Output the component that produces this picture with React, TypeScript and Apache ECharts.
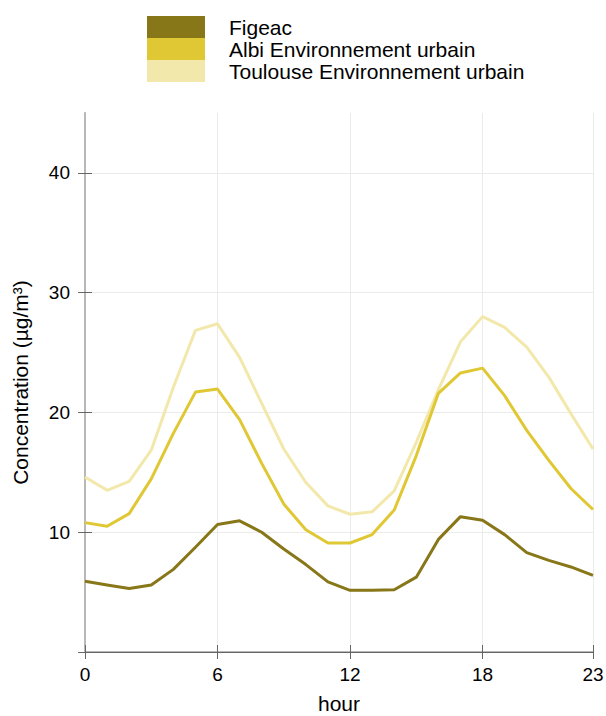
import React, { useEffect, useRef } from "react";
import * as echarts from "echarts";

const hours = [0, 1, 2, 3, 4, 5, 6, 7, 8, 9, 10, 11, 12, 13, 14, 15, 16, 17, 18, 19, 20, 21, 22, 23];
const figeac = [5.9, 5.6, 5.3, 5.6, 6.9, 8.75, 10.65, 10.95, 10.0, 8.6, 7.3, 5.85, 5.15, 5.15, 5.2, 6.25, 9.4, 11.3, 11.0, 9.8, 8.3, 7.65, 7.1, 6.4];
const albi = [10.8, 10.5, 11.55, 14.45, 18.25, 21.7, 21.95, 19.4, 15.75, 12.35, 10.2, 9.1, 9.1, 9.8, 11.85, 16.4, 21.6, 23.3, 23.7, 21.4, 18.5, 16.0, 13.65, 11.9];
const toulouse = [14.6, 13.5, 14.25, 16.85, 22.1, 26.85, 27.4, 24.6, 20.75, 16.95, 14.15, 12.2, 11.5, 11.7, 13.45, 17.5, 21.9, 25.9, 28.0, 27.1, 25.45, 22.95, 19.9, 16.95];
const seriesNames = ["Figeac", "Albi Environnement urbain", "Toulouse Environnement urbain"];
const seriesColors = ["#877718", "#e0c734", "#f3e8ab"];
const xTicks = [0, 6, 12, 18, 23];
const yTickValues = [0, 10, 20, 30, 40];
const yLabelValues = [10, 20, 30, 40];

const FONT = "Liberation Sans, Arial, sans-serif";

export default function App() {
  const ref = useRef<HTMLDivElement>(null);
  useEffect(() => {
    document.body.style.margin = "0";
    const chart = echarts.init(ref.current!, null, { renderer: "svg" });
    const allData = [figeac, albi, toulouse];
    const dark = "#666666";
    const light = "#b8b8b8";
    chart.setOption({
      animation: false,
      backgroundColor: "#ffffff",
      textStyle: { fontFamily: FONT },
      legend: {
        orient: "vertical",
        left: 147,
        top: 16,
        padding: 0,
        itemWidth: 58,
        itemHeight: 22,
        itemGap: 0,
        icon: "rect",
        data: seriesNames,
        textStyle: { fontSize: 21, color: "#000", fontFamily: FONT, padding: [0, 0, 0, 19] },
      },
      grid: { left: 85, right: 13, top: 113, bottom: 64, containLabel: false, outerBoundsMode: "none" },
      xAxis: [
        {
          type: "value",
          position: "bottom",
          min: 0,
          max: 23,
          interval: 6,
          name: "hour",
          nameLocation: "middle",
          nameGap: 41,
          nameTextStyle: { fontSize: 21, color: "#000", fontFamily: FONT },
          axisLine: { show: true, lineStyle: { color: light, width: 2 } },
          axisTick: { show: true, length: 7, lineStyle: { color: dark }, customValues: xTicks },
          axisLabel: { fontSize: 19, color: "#000", margin: 13, fontFamily: FONT, customValues: xTicks },
          splitLine: { show: true, lineStyle: { color: "#ebebeb", width: 1 } },
        },
        {
          type: "value",
          position: "top",
          min: 0,
          max: 23,
          interval: 6,
          axisLine: { show: true, lineStyle: { color: dark, width: 1 } },
          axisTick: { show: true, length: 7, lineStyle: { color: dark }, customValues: xTicks },
          axisLabel: { show: false },
          splitLine: { show: false },
        },
      ],
      yAxis: [
        {
          type: "value",
          position: "left",
          min: 0,
          max: 45,
          interval: 10,
          name: "Concentration (µg/m³)",
          nameLocation: "middle",
          nameGap: 54,
          nameTextStyle: { fontSize: 21, color: "#000", fontFamily: FONT },
          axisLine: { show: true, lineStyle: { color: dark, width: 1 } },
          axisTick: { show: true, length: 7, lineStyle: { color: dark }, customValues: yTickValues },
          axisLabel: { fontSize: 19, color: "#000", margin: 15, fontFamily: FONT, customValues: yLabelValues },
          splitLine: { show: true, lineStyle: { color: "#ebebeb", width: 1 } },
        },
        {
          type: "value",
          position: "right",
          min: 0,
          max: 45,
          interval: 10,
          axisLine: { show: true, lineStyle: { color: light, width: 2 } },
          axisTick: { show: true, length: 7, lineStyle: { color: dark }, customValues: yTickValues },
          axisLabel: { show: false },
          splitLine: { show: false },
        },
      ],
      series: seriesNames.map((name, i) => ({
        name,
        type: "line",
        xAxisIndex: 0,
        yAxisIndex: 0,
        data: hours.map((h, j) => [h, allData[i][j]]),
        showSymbol: false,
        symbol: "none",
        z: 10 - i,
        lineStyle: { color: seriesColors[i], width: 3 },
        itemStyle: { color: seriesColors[i] },
      })),
    });
    return () => chart.dispose();
  }, []);
  return <div ref={ref} style={{ width: 606, height: 716 }} />;
}
